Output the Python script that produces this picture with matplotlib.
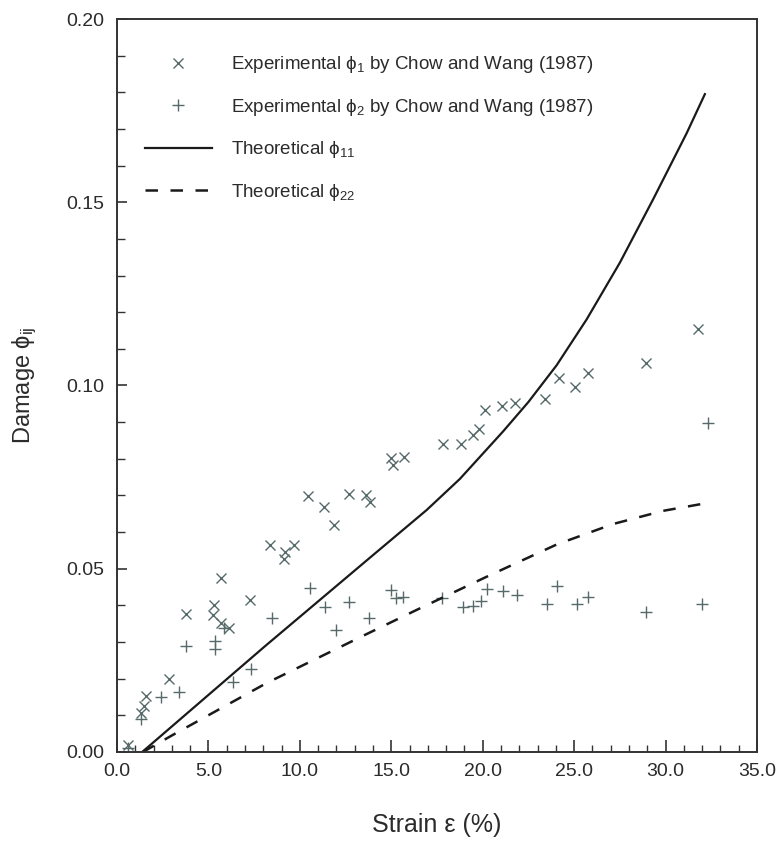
import matplotlib
matplotlib.use("Agg")
import matplotlib.pyplot as plt
from matplotlib.ticker import MultipleLocator, FormatStrFormatter

plt.rcParams['font.family'] = ['Liberation Sans', 'DejaVu Sans']
plt.rcParams['mathtext.default'] = 'regular'

# experimental phi_1 (x markers), Chow and Wang 1987
exp1_strain = [0.62, 1.30, 1.48, 1.57, 2.86, 3.77, 5.32, 5.27, 5.67, 5.67, 6.12, 7.26,
               8.37, 9.13, 9.19, 9.68, 10.46, 11.32, 11.86, 12.70, 13.61, 13.83, 14.96,
               15.11, 15.69, 17.84, 18.79, 19.48, 19.81, 20.12, 21.07, 21.76, 23.38,
               24.15, 25.02, 25.75, 28.94, 31.77]
exp1_damage = [0.0019, 0.0107, 0.0126, 0.0154, 0.0199, 0.0377, 0.0400, 0.0374, 0.0475,
               0.0353, 0.0338, 0.0415, 0.0564, 0.0527, 0.0545, 0.0564, 0.0699, 0.0669,
               0.0619, 0.0704, 0.0700, 0.0681, 0.0802, 0.0782, 0.0804, 0.0839, 0.0839,
               0.0866, 0.0882, 0.0933, 0.0943, 0.0953, 0.0964, 0.1021, 0.0995, 0.1033,
               0.1062, 0.1153]

# experimental phi_2 (+ markers)
exp2_strain = [0.62, 1.31, 2.41, 3.41, 3.77, 5.36, 5.36, 5.85, 6.33, 7.31, 8.46, 10.55,
               11.37, 11.97, 12.68, 13.76, 14.96, 15.24, 15.65, 17.75, 18.93, 19.48,
               19.89, 20.21, 21.09, 21.86, 23.53, 24.04, 25.13, 25.75, 28.92, 31.97, 32.33]
exp2_damage = [0.0011, 0.0089, 0.0151, 0.0163, 0.0288, 0.0304, 0.0281, 0.0338, 0.0192,
               0.0226, 0.0365, 0.0447, 0.0395, 0.0333, 0.0408, 0.0365, 0.0443, 0.0420,
               0.0422, 0.0420, 0.0395, 0.0397, 0.0411, 0.0445, 0.0438, 0.0429, 0.0404,
               0.0454, 0.0404, 0.0424, 0.0383, 0.0404, 0.0898]

# theoretical curves
th11_strain = [1.38, 8.08, 13.83, 16.93, 18.75, 21.12, 22.5, 24.04, 25.68, 27.5, 29.32,
               31.15, 32.15]
th11_damage = [0.0, 0.0288, 0.0530, 0.0660, 0.0745, 0.0875, 0.0955, 0.1055, 0.1180,
               0.1335, 0.1508, 0.1688, 0.1795]
th22_strain = [1.42, 3.0, 8.18, 13.83, 16.57, 20.21, 24.04, 27.13, 29.87, 31.9]
th22_damage = [0.0, 0.0045, 0.0188, 0.0326, 0.0392, 0.0478, 0.0566, 0.0622, 0.0658, 0.0676]

txt = '#2b2b2b'
mk = '#566a6a'

fig = plt.figure(figsize=(7.8, 8.49), dpi=100)
ax = fig.add_axes([0.15, 0.1143, 0.8205, 0.8633])

ax.plot(exp1_strain, exp1_damage, ls='none', marker='x', ms=7, mew=1.0, color=mk,
        label='Experimental ϕ$_1$ by Chow and Wang (1987)')
ax.plot(exp2_strain, exp2_damage, ls='none', marker='+', ms=9, mew=1.0, color=mk,
        label='Experimental ϕ$_2$ by Chow and Wang (1987)')
ax.plot(th11_strain, th11_damage, color='#1a1a1a', lw=1.6, label='Theoretical ϕ$_{11}$')
ax.plot(th22_strain, th22_damage, color='#1a1a1a', lw=1.8, dashes=(5, 5),
        label='Theoretical ϕ$_{22}$')

ax.set_xlim(0, 35)
ax.set_ylim(0, 0.20)
ax.xaxis.set_major_locator(MultipleLocator(5))
ax.xaxis.set_minor_locator(MultipleLocator(1))
ax.yaxis.set_major_locator(MultipleLocator(0.05))
ax.yaxis.set_minor_locator(MultipleLocator(0.01))
ax.xaxis.set_major_formatter(FormatStrFormatter('%.1f'))
ax.yaxis.set_major_formatter(FormatStrFormatter('%.2f'))
ax.tick_params(which='both', direction='in', top=False, right=False,
               colors='#333333', labelcolor=txt, labelsize=14)
ax.tick_params(axis='x', which='major', length=9, width=1.2, pad=8)
ax.tick_params(axis='x', which='minor', length=5, width=1.0)
ax.tick_params(axis='y', which='major', length=7, width=1.2, pad=9)
ax.tick_params(axis='y', which='minor', length=6, width=1.0)
for s in ax.spines.values():
    s.set_color('#333333')
    s.set_linewidth(1.4)

ax.set_xlabel('Strain ε (%)', fontsize=18, color=txt, labelpad=24)
ax.set_ylabel('Damage ϕ$_{ij}$', fontsize=17, color=txt, labelpad=20)

ax.legend(loc='upper left', bbox_to_anchor=(0.043, 0.952), frameon=False,
          fontsize=13.5, handlelength=3.6, handletextpad=1.0, labelspacing=1.15,
          borderpad=0, borderaxespad=0, labelcolor=txt)

fig.savefig('out.png', dpi=100)
